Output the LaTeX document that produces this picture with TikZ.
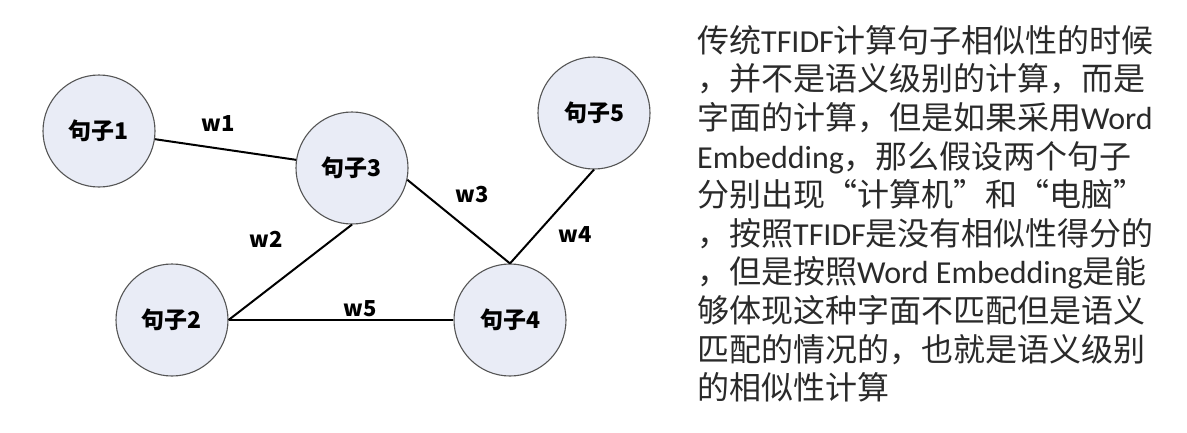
\documentclass[tikz,border=0pt]{standalone}
\usepackage{fontspec}
\setmainfont{Noto Sans CJK SC}
\newfontfamily\lat{Carlito}
\usetikzlibrary{positioning}
\definecolor{bulle}{HTML}{E9ECF6}
\definecolor{bord}{HTML}{555555}
\definecolor{texte}{HTML}{2A2A2A}

\begin{document}
\begin{tikzpicture}[
  x=1pt, y=-1pt,
  phrase/.style={circle, draw=bord, line width=1.1pt, fill=bulle,
                 minimum size=112pt, inner sep=0pt,
                 font=\fontsize{23}{26}\selectfont\bfseries},
  lien/.style={line width=2pt, black},
  poids/.style={font=\fontsize{22}{24}\selectfont\bfseries},
]
\useasboundingbox (0,0) rectangle (1187,432);
% ---- les cinq phrases
\node[phrase] (s1) at (99,131) {句子1};
\node[phrase] (s2) at (172,320) {句子2};
\node[phrase] (s3) at (352,168) {句子3};
\node[phrase] (s4) at (510,320) {句子4};
\node[phrase] (s5) at (594,113) {句子5};
% ---- liens pondérés
\draw[lien] (s1) -- (s3);
\draw[lien] (s2.east) -- (s3.south);
\draw[lien] (s3.-12) -- (s4.north);
\draw[lien] (s5.south) -- (s4.north);
\draw[lien] (s2.east) -- (s4.west);
\node[poids] (w1) at (218,124) {w1};
\node[poids] (w2) at (266,239) {w2};
\node[poids] (w3) at (472,195) {w3};
\node[poids] (w4) at (575,235) {w4};
\node[poids] (w5) at (360,309) {w5};
% ---- le commentaire à droite
\node[anchor=north west, align=left, inner sep=0pt, text=texte,
      font=\fontsize{32}{38.6}\selectfont] (note) at (697,25)
  {传统{\lat TFIDF}计算句子相似性的时候\\
   ，并不是语义级别的计算，而是\\
   字面的计算，但是如果采用{\lat Word}\\
   {\lat Embedding}，那么假设两个句子\\
   分别出现“计算机”和“电脑”\\
   ，按照{\lat TFIDF}是没有相似性得分的\\
   ，但是按照{\lat Word Embedding}是能\\
   够体现这种字面不匹配但是语义\\
   匹配的情况的，也就是语义级别\\
   的相似性计算};
\end{tikzpicture}
\end{document}
